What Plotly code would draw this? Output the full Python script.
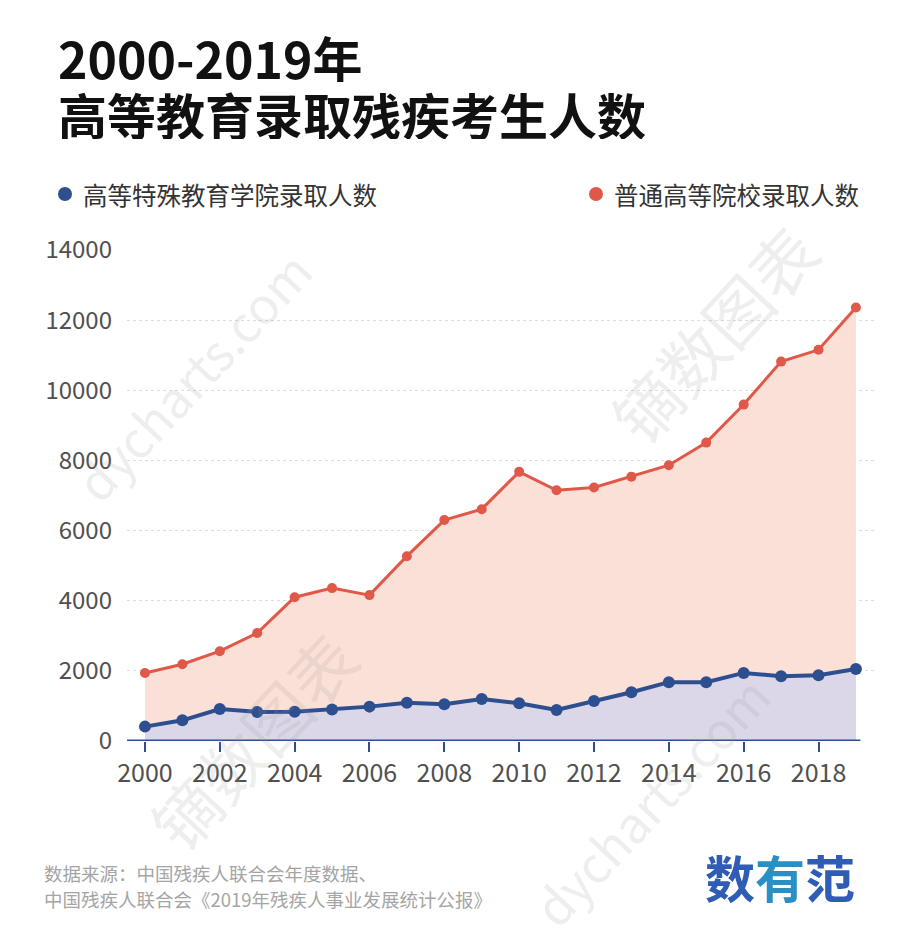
import plotly.graph_objects as go

years = list(range(2000, 2020))
special_colleges = [410, 590, 910, 830, 835, 900, 980, 1090, 1045, 1195, 1075, 885, 1140, 1390, 1678, 1678, 1941, 1845, 1873, 2053]
regular_colleges = [1940, 2190, 2560, 3080, 4100, 4360, 4160, 5270, 6300, 6610, 7674, 7150, 7229, 7538, 7864, 8508, 9592, 10818, 11154, 12362]
y_ticks = [0, 2000, 4000, 6000, 8000, 10000, 12000, 14000]
x_ticks = list(range(2000, 2019, 2))
series_names = ["高等特殊教育学院录取人数", "普通高等院校录取人数"]

RED = "#e05848"
BLUE = "#2e4f8f"
FONT = "Noto Sans CJK SC"

L, R, T, B = 127, 25, 250, 205
W, H = 900, 946
PW, PH = W - L - R, H - T - B

fig = go.Figure()
fig.add_trace(go.Scatter(
    x=years, y=regular_colleges, mode="lines+markers", name=series_names[1],
    line=dict(color=RED, width=3), marker=dict(color=RED, size=10),
    fill="tozeroy", fillcolor="#fbe0d7"))
fig.add_trace(go.Scatter(
    x=years, y=special_colleges, mode="lines+markers", name=series_names[0],
    line=dict(color=BLUE, width=4), marker=dict(color=BLUE, size=12),
    fill="tozeroy", fillcolor="#dcd7e8"))

# x axis base line
fig.add_shape(type="line", xref="x", yref="y", x0=1999.52, x1=2019.12, y0=0, y1=0,
              line=dict(color=BLUE, width=3), layer="above")

fig.update_layout(
    width=W, height=H,
    margin=dict(l=L, r=R, t=T, b=B),
    paper_bgcolor="white", plot_bgcolor="white",
    showlegend=False,
    font=dict(family=FONT, color="#555555"),
    xaxis=dict(range=[1999.52, 2019.51], tickvals=x_ticks, ticktext=[str(v) for v in x_ticks],
               showgrid=False, zeroline=False, showline=False,
               ticks="outside", ticklen=10, tickwidth=2, tickcolor=BLUE,
               tickfont=dict(size=25, color="#505050", family=FONT)),
    yaxis=dict(range=[0, 14000], tickvals=y_ticks, ticktext=[str(v) for v in y_ticks],
               showgrid=True, gridcolor="#dddddd", griddash="dot", gridwidth=1,
               zeroline=False, showline=False, ticks="", ticklabelstandoff=14,
               tickfont=dict(size=24, color="#505050", family=FONT)),
)


def paper_xy(px, py):
    return (px - L) / PW, 1 - (py - T) / PH


anns = []
# faint watermarks
wm = [("dycharts.com", 192, 375, -47, 50), ("镝数图表", 252, 740, -47, 66),
      ("镝数图表", 713, 333, -47, 66), ("dycharts.com", 650, 800, -47, 50)]
for text, px, py, ang, sz in wm:
    x, y = paper_xy(px, py)
    anns.append(dict(text=text, x=x, y=y, xref="paper", yref="paper", showarrow=False,
                     xanchor="center", yanchor="middle", textangle=ang,
                     font=dict(size=sz, color="rgba(150,150,150,0.16)", family=FONT)))

# title
x, y = paper_xy(56, 57)
anns.append(dict(text="<b>2000-2019年</b>", x=x, y=y, xref="paper", yref="paper", showarrow=False,
                 xanchor="left", yanchor="middle", height=50,
                 font=dict(size=50, color="#111111", family=FONT)))
x, y = paper_xy(56, 113)
anns.append(dict(text="<b>高等教育录取残疾考生人数</b>", x=x, y=y, xref="paper", yref="paper", showarrow=False,
                 xanchor="left", yanchor="middle", height=52,
                 font=dict(size=49, color="#111111", family=FONT)))

# legend
x, y = paper_xy(81, 194)
anns.append(dict(text=series_names[0], x=x, y=y, xref="paper", yref="paper", showarrow=False,
                 xanchor="left", yanchor="middle", font=dict(size=24.5, color="#333333", family=FONT)))
x, y = paper_xy(612, 194)
anns.append(dict(text=series_names[1], x=x, y=y, xref="paper", yref="paper", showarrow=False,
                 xanchor="left", yanchor="middle", font=dict(size=24.5, color="#333333", family=FONT)))

# footer
x, y = paper_xy(42, 873)
anns.append(dict(text="数据来源：中国残疾人联合会年度数据、", x=x, y=y, xref="paper", yref="paper",
                 showarrow=False, xanchor="left", yanchor="middle",
                 font=dict(size=18.5, color="#a5a5a5", family=FONT)))
x, y = paper_xy(42, 899)
anns.append(dict(text="中国残疾人联合会《2019年残疾人事业发展统计公报》", x=x, y=y, xref="paper", yref="paper",
                 showarrow=False, xanchor="left", yanchor="middle",
                 font=dict(size=18.5, color="#a5a5a5", family=FONT)))
# logo
x, y = paper_xy(780, 876)
anns.append(dict(text="<b><span style='color:#2f5db5'>数</span><span style='color:#2a8fc4'>有</span><span style='color:#2f5db5'>范</span></b>",
                 x=x, y=y, xref="paper", yref="paper", showarrow=False, xanchor="center", yanchor="middle",
                 font=dict(size=50, family=FONT)))

fig.update_layout(annotations=anns)

for cx, col in [(65, BLUE), (596, RED)]:
    x0, y0 = paper_xy(cx - 7, 194 + 7)
    x1, y1 = paper_xy(cx + 7, 194 - 7)
    fig.add_shape(type="circle", xref="paper", yref="paper", x0=x0, x1=x1, y0=y0, y1=y1,
                  fillcolor=col, line=dict(width=0))

fig.write_html("out.html")
